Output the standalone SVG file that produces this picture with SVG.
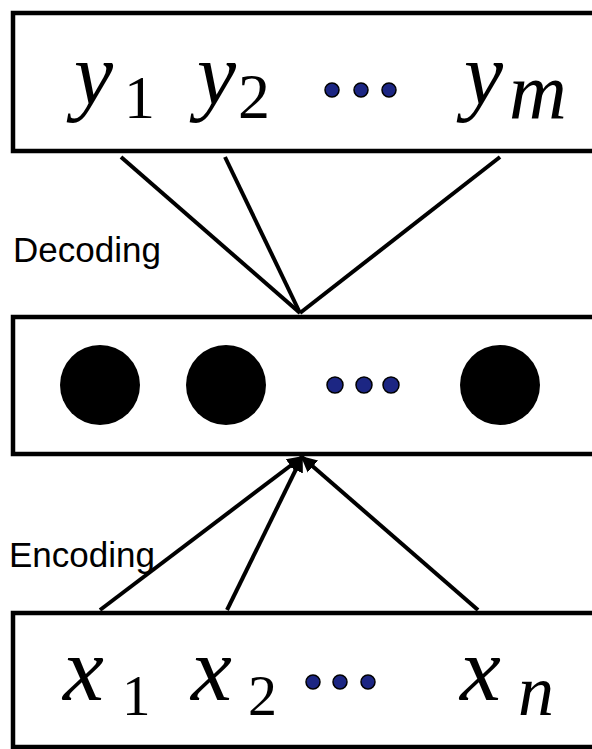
<svg xmlns="http://www.w3.org/2000/svg" width="592" height="749" viewBox="0 0 592 749">
  <style>
    .box { fill: #fff; stroke: #000; stroke-width: 4.5; }
    .edge { stroke: #000; stroke-width: 4; fill: none; }
    .math { font-family: "Liberation Serif", "Times New Roman", serif; font-style: italic; fill: #000; }
    .num { font-family: "Liberation Serif", "Times New Roman", serif; fill: #000; }
    .dot { fill: #1c2683; stroke: #000; stroke-width: 1.5; }
    .unit { fill: #000; }
    .label { font-family: "Liberation Sans", Arial, sans-serif; font-size: 35px; fill: #000; }
  </style>
  <defs>
    <marker id="arrow" viewBox="0 0 10 10" refX="9" refY="5" markerWidth="4" markerHeight="4.5" orient="auto" markerUnits="strokeWidth">
      <path d="M0,0 L10,5 L0,10 z" fill="#000"/>
    </marker>
  </defs>

  <rect width="592" height="749" fill="#fff"/>

  <!-- output layer -->
  <g id="output">
    <rect class="box" x="13" y="13" width="600" height="138"/>
    <text class="math" x="74" y="104" font-size="88">y</text>
    <text class="num" x="124" y="118" font-size="62">1</text>
    <text class="math" x="197" y="104" font-size="88">y</text>
    <text class="num" x="238" y="118" font-size="64">2</text>
    <circle class="dot" cx="332" cy="90" r="7"/>
    <circle class="dot" cx="361" cy="90" r="7"/>
    <circle class="dot" cx="389" cy="90" r="7"/>
    <text class="math" x="464" y="104" font-size="88">y</text>
    <text class="math" x="509" y="118" font-size="80">m</text>
  </g>

  <!-- hidden representation -->
  <g id="hidden">
    <rect class="box" x="13" y="317" width="600" height="137"/>
    <circle class="unit" cx="100" cy="385" r="40"/>
    <circle class="unit" cx="226" cy="385" r="40"/>
    <circle class="dot" cx="335" cy="385" r="8"/>
    <circle class="dot" cx="364" cy="385" r="8"/>
    <circle class="dot" cx="391" cy="385" r="8"/>
    <circle class="unit" cx="500" cy="385" r="40"/>
  </g>

  <!-- input layer -->
  <g id="input">
    <rect class="box" x="13" y="613" width="600" height="134"/>
    <text class="math" x="63" y="700" font-size="92">x</text>
    <text class="num" x="122" y="715" font-size="57">1</text>
    <text class="math" x="191" y="700" font-size="92">x</text>
    <text class="num" x="248" y="715" font-size="58">2</text>
    <circle class="dot" cx="313" cy="682" r="7"/>
    <circle class="dot" cx="340" cy="682" r="7"/>
    <circle class="dot" cx="368" cy="682" r="7"/>
    <text class="math" x="460" y="700" font-size="92">x</text>
    <text class="math" x="518" y="715" font-size="72">n</text>
  </g>

  <g id="label-decoding">
    <text class="label" x="13" y="262">Decoding</text>
  </g>
  <g id="label-encoding">
    <text class="label" x="9" y="567">Encoding</text>
  </g>

  <!-- connectors -->
  <g id="connectors">
    <line class="edge" x1="300" y1="313" x2="121" y2="157"/>
    <line class="edge" x1="300" y1="313" x2="225" y2="157"/>
    <line class="edge" x1="300" y1="313" x2="500" y2="157"/>
    <line class="edge" x1="100" y1="610" x2="302" y2="457" marker-end="url(#arrow)"/>
    <line class="edge" x1="227" y1="610" x2="302" y2="457" marker-end="url(#arrow)"/>
    <line class="edge" x1="478" y1="610" x2="302" y2="457" marker-end="url(#arrow)"/>
  </g>
</svg>
